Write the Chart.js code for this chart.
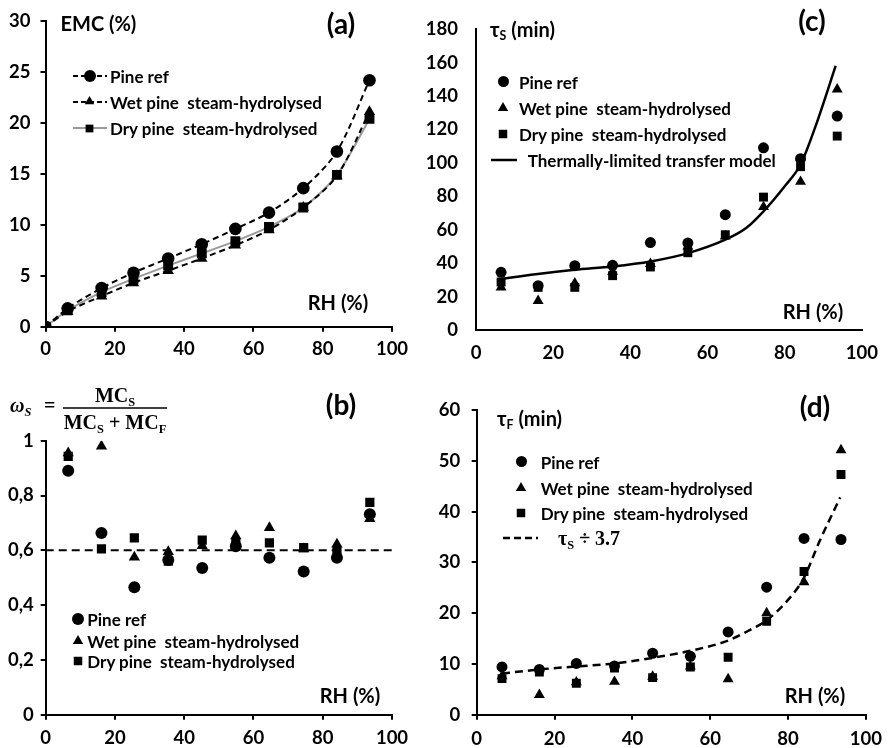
<!DOCTYPE html>
<html>
<head>
<meta charset="utf-8">
<script src="https://cdn.jsdelivr.net/npm/chart.js@4.4.0/dist/chart.umd.min.js"></script>
<style>
  body { margin: 0; background: #fff; }
  #fig { position: relative; width: 890px; height: 748px; font-family: Lato, "Noto Sans", sans-serif; font-weight: bold; color: #000; overflow: hidden; }
  #fig canvas { position: absolute; }
  .t { position: absolute; white-space: pre; line-height: 1; transform: translateY(-50%); }
  .c { position: absolute; white-space: pre; line-height: 1; transform: translate(-50%, -50%); }
  .lg { font-size: 17px; }
  .lab { font-size: 20px; }
  .pan { font-size: 28px; }
  .serif { font-family: "Liberation Serif", "DejaVu Serif", serif; }
  .sb { font-size: 62%; position: relative; top: 0.3em; }
  svg { position: absolute; overflow: visible; }
</style>
</head>
<body>
<div id="fig">
  <canvas id="chA" width="445" height="374" style="left:0;top:0"></canvas>
  <canvas id="chB" width="445" height="374" style="left:0;top:374px"></canvas>
  <canvas id="chC" width="490" height="374" style="left:400px;top:0"></canvas>
  <canvas id="chD" width="490" height="374" style="left:400px;top:374px"></canvas>
</div>
<script>
// series names shared by all four panels
const seriesNames = ["Pine ref", "Wet pine  steam-hydrolysed", "Dry pine  steam-hydrolysed"];
const xTickLabels = ["0", "20", "40", "60", "80", "100"];

// (a) sorption isotherms
const rhEmc = [0, 6.4, 16.2, 25.4, 35.4, 45.1, 54.8, 64.5, 74.4, 84.1, 93.5];
const emcPine = [0, 1.8, 3.8, 5.3, 6.7, 8.1, 9.6, 11.2, 13.6, 17.2, 24.2];
const emcWet = [0, 1.5, 3.0, 4.3, 5.5, 6.7, 8.0, 9.5, 11.7, 14.8, 21.1];
const emcDry = [0, 1.6, 3.4, 4.7, 6.0, 7.2, 8.4, 9.8, 11.7, 14.9, 20.4];
const emcTickLabels = ["0", "5", "10", "15", "20", "25", "30"];

// RH steps of the kinetics (b, c, d)
const rh = [6.5, 16.1, 25.6, 35.4, 45.2, 54.9, 64.6, 74.5, 84.1, 93.6];

// (b) slow fraction
const wsPine = [0.89, 0.663, 0.465, 0.565, 0.535, 0.615, 0.573, 0.523, 0.573, 0.732];
const wsWet = [0.955, 0.98, 0.575, 0.595, 0.617, 0.652, 0.682, 0.605, 0.622, 0.715];
const wsDry = [0.943, 0.605, 0.645, 0.56, 0.637, 0.625, 0.627, 0.61, 0.595, 0.775];
const wsRefX = [0, 100];
const wsRefY = [0.6, 0.6];
const wsTickLabels = ["0", "0,2", "0,4", "0,6", "0,8", "1"];

// (c) slow time constant
const tsPine = [34.5, 26.5, 38.5, 38.7, 52.3, 52, 69, 109, 102.5, 128];
const tsWet = [25.5, 17.5, 28, 35, 39.6, 50, 56, 73.6, 88.7, 144];
const tsDry = [28.7, 25.5, 25.5, 32.5, 37.7, 46.2, 57, 79.5, 97.7, 116];
const tsModelX = [6.5, 16, 25.6, 35.4, 45.2, 55, 64.6, 70, 74.5, 80, 84.1, 88, 93.2];
const tsModelY = [30.5, 33.5, 36, 38, 41, 46, 54, 61, 71, 86, 99, 122, 158];
const tsTickLabels = ["0", "20", "40", "60", "80", "100", "120", "140", "160", "180"];

// (d) fast time constant
const tfPine = [9.4, 8.9, 10.1, 9.6, 12.1, 11.5, 16.3, 25.1, 34.7, 34.5];
const tfWet = [7.6, 3.9, 6.4, 6.5, 7.5, 9.5, 7.0, 20.0, 26.1, 52.1];
const tfDry = [7.1, 8.4, 6.2, 9.2, 7.3, 9.4, 11.3, 18.4, 28.2, 47.3];
const tfModelX = [6.5, 16, 25.6, 35.4, 45.2, 55, 64.6, 70, 74.5, 80, 84.1, 88, 93.4];
const tfModelY = [8.1, 8.9, 9.5, 10.1, 11.2, 12.6, 14.6, 16.6, 18.6, 22.6, 27, 34, 42.8];
const tfTickLabels = ["0", "10", "20", "30", "40", "50", "60"];

Chart.defaults.font.family = "Lato, 'Noto Sans', sans-serif";
Chart.defaults.font.size = 18.5;
Chart.defaults.font.weight = "bold";
Chart.defaults.color = "#000";

const shapes = ["circle", "triangle", "rect"];

function pts(xs, ys) {
  return xs.map((x, i) => ({ x: x, y: ys[i] }));
}

function markers(ys, xs, sizes) {
  return ys.map((y, k) => ({
    label: seriesNames[k],
    data: pts(xs, y),
    showLine: false,
    pointStyle: shapes[k],
    pointRadius: sizes[k],
    pointBackgroundColor: "#000",
    pointBorderColor: "#000",
    pointBorderWidth: 0
  }));
}

function makeChart(id, datasets, area, y, withTicks) {
  const canvas = document.getElementById(id);
  const tl = withTicks ? 5 : 0;
  return new Chart(canvas, {
    type: "scatter",
    data: { datasets: datasets },
    options: {
      responsive: false,
      animation: false,
      layout: { padding: { top: area.top, right: canvas.width - area.right, left: 0, bottom: 0 } },
      plugins: { legend: { display: false }, tooltip: { enabled: false } },
      scales: {
        x: {
          type: "linear", min: 0, max: 100,
          afterFit: s => { s.height = 374 - area.bottom; },
          ticks: { stepSize: 20, padding: area.xPad, callback: (v, i) => xTickLabels[i] },
          grid: { drawOnChartArea: false, drawTicks: withTicks, tickLength: tl, color: "#000", lineWidth: 2 },
          border: { color: "#000", width: 2 }
        },
        y: {
          type: "linear", min: 0, max: y.max,
          afterFit: s => { s.width = area.left; },
          ticks: { stepSize: y.step, padding: area.yPad, callback: (v, i) => y.labels[i] },
          grid: { drawOnChartArea: false, drawTicks: withTicks, tickLength: tl, color: "#000", lineWidth: 2 },
          border: { color: "#000", width: 2 }
        }
      }
    }
  });
}

// (a)
const aSets = [
  { data: pts(rhEmc, emcPine), borderDash: [6, 4], borderColor: "#000", r: 6.3 },
  { data: pts(rhEmc, emcWet), borderDash: [6, 4], borderColor: "#000", r: 6.6 },
  { data: pts(rhEmc, emcDry), borderDash: [], borderColor: "#9a9a9a", r: 7 }
].map((d, k) => ({
  label: seriesNames[k],
  data: d.data,
  showLine: true,
  tension: 0.3,
  borderColor: d.borderColor,
  borderDash: d.borderDash,
  borderWidth: 2,
  pointStyle: shapes[k],
  pointRadius: d.r,
  pointBackgroundColor: "#000",
  pointBorderColor: "#000",
  pointBorderWidth: 0
}));
makeChart("chA", aSets, { left: 45.5, right: 392, top: 18.7, bottom: 326.7, xPad: 6, yPad: 10 },
  { max: 30, step: 5, labels: emcTickLabels }, true);

// (c)  canvas starts at x=400
const cSets = markers([tsPine, tsWet, tsDry], rh, [5.5, 6.3, 6.3]);
cSets.push({
  label: "Thermally-limited transfer model",
  data: pts(tsModelX, tsModelY),
  showLine: true, cubicInterpolationMode: "monotone",
  borderColor: "#000", borderWidth: 2.5, pointRadius: 0
});
makeChart("chC", cSets, { left: 76, right: 468, top: 12.3, bottom: 330, xPad: 12, yPad: 18 },
  { max: 180, step: 20, labels: tsTickLabels }, false);

// (b)
const bSets = markers([wsPine, wsWet, wsDry], rh, [6, 6.5, 6.5]);
bSets.push({
  label: "0.6",
  data: pts(wsRefX, wsRefY),
  showLine: true, borderColor: "#000", borderWidth: 2, borderDash: [8, 5], pointRadius: 0
});
makeChart("chB", bSets, { left: 45.7, right: 392, top: 66.7, bottom: 340.7, xPad: 7, yPad: 7 },
  { max: 1, step: 0.2, labels: wsTickLabels }, true);

// (d)  canvas starts at x=400
const dSets = markers([tfPine, tfWet, tfDry], rh, [5.5, 6.3, 6.3]);
dSets.push({
  label: "τS ÷ 3.7",
  data: pts(tfModelX, tfModelY),
  showLine: true, cubicInterpolationMode: "monotone",
  borderColor: "#000", borderWidth: 2.5, borderDash: [8, 5], pointRadius: 0
});
makeChart("chD", dSets, { left: 76.7, right: 470, top: 36, bottom: 340.7, xPad: 8, yPad: 11.5 },
  { max: 60, step: 10, labels: tfTickLabels }, true);

// ---- text and legends ----
const fig = document.getElementById("fig");
function txt(html, x, y, cls) {
  const d = document.createElement("div");
  d.className = cls;
  d.innerHTML = html;
  d.style.left = x + "px";
  d.style.top = y + "px";
  fig.appendChild(d);
  return d;
}
function svgAt(x, y, w, h, inner) {
  const s = document.createElementNS("http://www.w3.org/2000/svg", "svg");
  s.setAttribute("width", w);
  s.setAttribute("height", h);
  s.style.left = (x - w / 2) + "px";
  s.style.top = (y - h / 2) + "px";
  s.innerHTML = inner;
  fig.appendChild(s);
}
function shapeSvg(shape, cx, cy, r) {
  if (shape === "circle") return `<circle cx="${cx}" cy="${cy}" r="${r}" fill="#000"/>`;
  if (shape === "triangle") {
    const a = 0.866 * r;
    return `<polygon points="${cx},${cy - r} ${cx + a},${cy + r / 2} ${cx - a},${cy + r / 2}" fill="#000"/>`;
  }
  const h = 0.707 * r;
  return `<rect x="${cx - h}" y="${cy - h}" width="${2 * h}" height="${2 * h}" fill="#000"/>`;
}
function marker(shape, x, y, r) {
  svgAt(x, y, 2 * r + 2, 2 * r + 2, shapeSvg(shape, r + 1, r + 1, r));
}
function lineSample(x0, x1, y, color, dash, width) {
  const w = x1 - x0;
  svgAt(x0 + w / 2, y, w, 6, `<line x1="0" y1="3" x2="${w}" y2="3" stroke="${color}" stroke-width="${width}" stroke-dasharray="${dash}"/>`);
}

// (a) texts
txt("EMC (%)", 60.5, 23, "t lab");
txt("(a)", 341, 23, "c pan");
txt("RH (%)", 338, 302, "c lab");
const aRows = [76, 101.7, 128.3];
const aLine = [["#000", "5 3"], ["#000", "5 3"], ["#9a9a9a", ""]];
aRows.forEach((y, k) => {
  lineSample(73, 107, y, aLine[k][0], aLine[k][1], 2);
  marker(shapes[k], 89.5, y, k === 0 ? 6 : 5.5);
  txt(seriesNames[k], 110, y, "t lg");
});

// (c) texts
txt("τ<span class='sb'>S</span> (min)", 490, 28.5, "t lab");
txt("(c)", 812, 19.5, "c pan");
txt("RH (%)", 813, 311, "c lab");
const cRows = [81.7, 107.7, 134];
cRows.forEach((y, k) => {
  marker(shapes[k], 503.3, y, k === 0 ? 5.5 : 6);
  txt(seriesNames[k], 519, y, "t lg");
});
lineSample(491, 517, 160, "#000", "", 2.5);
txt("Thermally-limited transfer model", 527.7, 160, "t lg");

// (b) texts
txt("<i>ω<span class='sb'>S</span></i>", 10, 405, "t serif lab");
txt("=", 44, 405, "t serif lab");
txt("MC<span class='sb'>S</span>", 115, 395, "c serif lab");
txt("MC<span class='sb'>S</span> + MC<span class='sb'>F</span>", 115, 422, "c serif lab");
svgAt(115, 407.5, 104, 4, `<line x1="0" y1="2" x2="104" y2="2" stroke="#000" stroke-width="1.5"/>`);
txt("(b)", 341, 404, "c pan");
txt("RH (%)", 350, 695, "c lab");
const bRows = [619, 640.7, 660.7];
bRows.forEach((y, k) => {
  marker(shapes[k], 78, y, 6);
  txt(seriesNames[k], 87.3, y, "t lg");
});

// (d) texts
txt("τ<span class='sb'>F</span> (min)", 497, 417.5, "t lab");
txt("(d)", 815, 406, "c pan");
txt("RH (%)", 815, 695, "c lab");
const dRows = [461.7, 488, 513.3];
dRows.forEach((y, k) => {
  marker(shapes[k], 521, y, k === 0 ? 5.5 : 6);
  txt(seriesNames[k], 540.7, y, "t lg");
});
lineSample(503, 538, 538.3, "#000", "7 4", 2.5);
txt("τ<span class='sb'>S</span> ÷ 3.7", 558, 538.3, "t serif lab");
</script>
</body>
</html>
